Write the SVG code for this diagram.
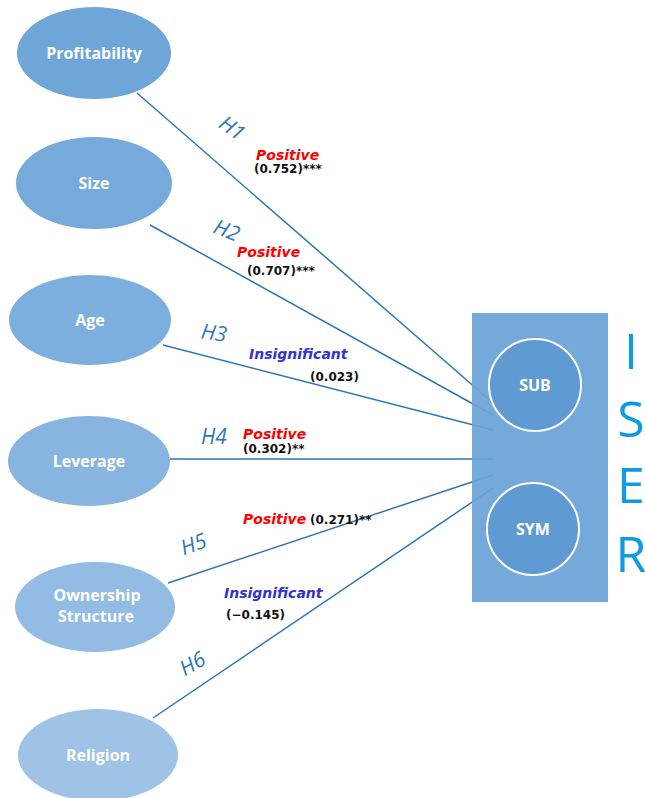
<svg xmlns="http://www.w3.org/2000/svg" width="645" height="798" viewBox="0 0 645 798">
<style>
.node{stroke:none}
.nl{font-family:"Open Sans","Liberation Sans",sans-serif;font-weight:bold;font-size:16px;fill:#fff;text-anchor:middle}
.conn{stroke:#2e75b6;stroke-width:1.5;fill:none}
.h{font-family:"Open Sans","Liberation Sans",sans-serif;font-style:italic;font-size:21px;fill:#2e75b6;text-anchor:middle}
.pos{font-family:"DejaVu Sans",sans-serif;font-style:italic;font-weight:bold;font-size:14px;fill:#ff0000}
.ins{font-family:"DejaVu Sans",sans-serif;font-style:italic;font-weight:bold;font-size:14px;fill:#3333cc}
.num{font-family:"DejaVu Sans",sans-serif;font-weight:bold;font-size:12px;fill:#111}
.iser{font-family:"Open Sans","Liberation Sans",sans-serif;font-size:50px;fill:#0d9be6;text-anchor:middle}
</style>
<g id="connectors">
<line class="conn" x1="137" y1="93" x2="493" y2="403"/>
<line class="conn" x1="150" y1="225" x2="493" y2="415"/>
<line class="conn" x1="163" y1="345" x2="493" y2="430"/>
<line class="conn" x1="170" y1="459" x2="493" y2="459"/>
<line class="conn" x1="168" y1="583" x2="493" y2="475"/>
<line class="conn" x1="153" y1="718" x2="493" y2="488"/>
</g>
<g id="iser-box">
<rect x="472" y="313" width="136" height="289" fill="#6aa3d6" fill-opacity="0.93"/>
<line x1="539" y1="405" x2="544" y2="428" stroke="#5b95cc" stroke-width="1"/>
<line x1="535" y1="505" x2="532" y2="512" stroke="#5b95cc" stroke-width="1"/>
</g>
<g id="SUB">
<circle cx="535" cy="385" r="46" fill="#5f9ad2" stroke="#fff" stroke-width="2"/>
<text class="nl" x="535" y="391">SUB</text>
</g>
<g id="SYM">
<circle cx="533" cy="529" r="46" fill="#5f9ad2" stroke="#fff" stroke-width="2"/>
<text class="nl" x="533" y="535">SYM</text>
</g>
<g id="ISER">
<text class="iser" x="631" y="369">I</text>
<text class="iser" x="631" y="437">S</text>
<text class="iser" x="631" y="503">E</text>
<text class="iser" x="631" y="572">R</text>
</g>
<g id="Profitability"><ellipse class="node" cx="94" cy="53" rx="77" ry="46" fill="#6fa6d8"/><text class="nl" x="94" y="59">Profitability</text></g>
<g id="Size"><ellipse class="node" cx="94" cy="183" rx="78" ry="46" fill="#75aadb"/><text class="nl" x="94" y="189">Size</text></g>
<g id="Age"><ellipse class="node" cx="90" cy="320" rx="81" ry="45" fill="#7cafdd"/><text class="nl" x="90" y="326">Age</text></g>
<g id="Leverage"><ellipse class="node" cx="89" cy="461" rx="81" ry="45" fill="#87b5e0"/><text class="nl" x="89" y="467">Leverage</text></g>
<g id="Ownership"><ellipse class="node" cx="95" cy="607" rx="80" ry="45" fill="#92bce3"/><text class="nl" x="97" y="601">Ownership</text><text class="nl" x="96" y="622">Structure</text></g>
<g id="Religion"><ellipse class="node" cx="98" cy="755" rx="80" ry="46" fill="#9ec3e6"/><text class="nl" x="98" y="761">Religion</text></g>
<g id="labels">
<text class="h" transform="translate(228,134) rotate(35)">H1</text>
<text class="pos" x="256" y="160">Positive</text>
<text class="num" x="254" y="173">(0.752)***</text>
<text class="h" transform="translate(224,237) rotate(22)">H2</text>
<text class="pos" x="237" y="257">Positive</text>
<text class="num" x="247" y="275">(0.707)***</text>
<text class="h" transform="translate(213,340) rotate(8)">H3</text>
<text class="ins" x="249" y="359">Insignificant</text>
<text class="num" x="310" y="381">(0.023)</text>
<text class="h" x="214" y="444">H4</text>
<text class="pos" x="243" y="439">Positive</text>
<text class="num" x="243" y="453">(0.302)**</text>
<text class="h" transform="translate(196,551) rotate(-20)">H5</text>
<text class="pos" x="243" y="524">Positive</text>
<text class="num" x="310" y="524">(0.271)**</text>
<text class="ins" x="224" y="598">Insignificant</text>
<text class="num" x="226" y="619">(−0.145)</text>
<text class="h" transform="translate(196,670) rotate(-30)">H6</text>
</g>
</svg>
